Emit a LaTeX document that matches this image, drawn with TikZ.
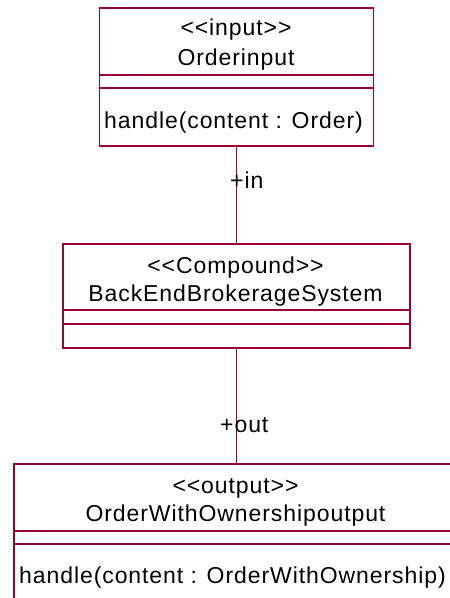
\documentclass[tikz,border=0pt]{standalone}
\usepackage{fontspec}
\setmainfont{Liberation Sans}[LetterSpace=4, Ligatures=TeXOff]
\definecolor{umlred}{RGB}{153,0,51}
\begin{document}
\begin{tikzpicture}[
	x=1pt, y=-1pt,
	umlbox/.style={ draw=umlred, line width=1.2pt, rectangle, inner sep=0pt },
	umlline/.style={ umlred, line width=1.2pt },
	umltext/.style={ anchor=base, inner sep=0pt, font=\fontsize{23}{26}\selectfont },
	optext/.style={ anchor=base west, inner sep=0pt, font=\fontsize{23}{26}\selectfont }
]

\useasboundingbox (0,0) rectangle (450,598);
\clip (0,0) rectangle (450,598);

% input class
\node at (236.5,77) (inputbox) [umlbox, minimum width=274pt, minimum height=138pt] {};
\draw[umlline] (99.5,75) -- (373.5,75);
\draw[umlline] (99.5,88) -- (373.5,88);
\node at (236,35) (inputst) [umltext] {<<input>>};
\node at (236,65) (inputname) [umltext] {Orderinput};
\node at (104,128) (inputop) [optext] {handle(content : Order)};

% compound class
\node at (236.5,296) (systembox) [umlbox, minimum width=347pt, minimum height=104pt] {};
\draw[umlline] (63,310) -- (410,310);
\draw[umlline] (63,324) -- (410,324);
\node at (235.5,273) (systemst) [umltext] {<<Compound>>};
\node at (235.5,301) (systemname) [umltext] {BackEndBrokerageSystem};

% output class
\node at (236.5,540) (outputbox) [umlbox, minimum width=445pt, minimum height=152pt] {};
\draw[umlline] (14,531) -- (459,531);
\draw[umlline] (14,544) -- (459,544);
\node at (235.5,493) (outputst) [umltext] {<<output>>};
\node at (235.5,521) (outputname) [umltext] {OrderWithOwnershipoutput};
\node at (19,583) (outputop) [optext] {handle(content : OrderWithOwnership)};

% ports
\draw[umlline] (inputbox.south) -- (systembox.north);
\draw[umlline] (systembox.south) -- (outputbox.north);
\node at (230,188) (inlabel) [optext] {+in};
\node at (220,432) (outlabel) [optext] {+out};

\end{tikzpicture}
\end{document}
